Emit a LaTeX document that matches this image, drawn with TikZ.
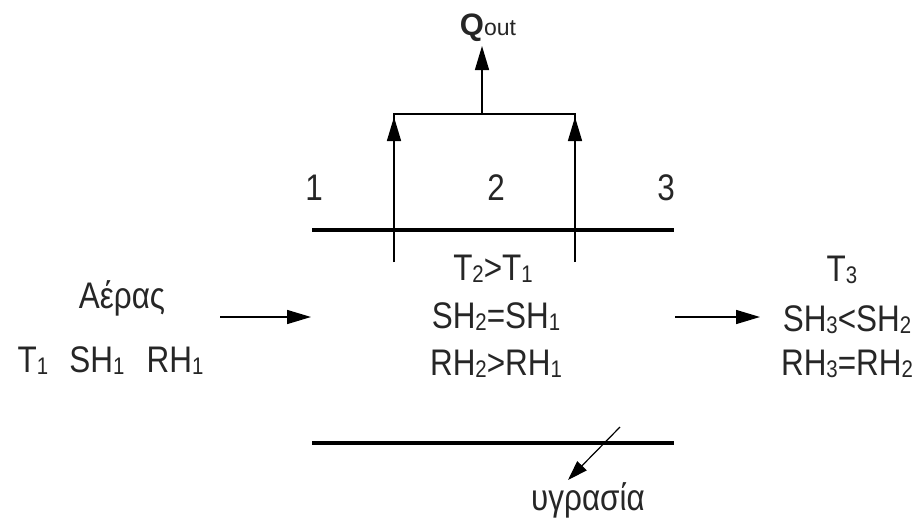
\documentclass[tikz,border=0pt]{standalone}
\usepackage{fontspec}
\setmainfont[FakeStretch=0.85]{Liberation Sans}
\newfontfamily\qfont{Liberation Sans}
\usetikzlibrary{arrows.meta}
\newcommand{\sbx}[1]{\raisebox{-2.5pt}{\fontsize{24}{24}\selectfont #1}}
\tikzset{
  lbl/.style={inner sep=0pt, anchor=base, font=\fontsize{37}{44}\selectfont, text=black!85},
  thin/.style={line width=1.5pt},
  wall/.style={line width=4pt},
  arr/.style={line width=1.5pt, -{Triangle[length=24pt,width=14pt]}}
}
\begin{document}
\begin{tikzpicture}[x=1pt,y=-1pt]
\useasboundingbox[fill=white] (0,0) rectangle (923,528);
% walls
\coordinate (w1a) at (312,230); \coordinate (w1b) at (674,230);
\coordinate (w2a) at (312,443); \coordinate (w2b) at (674,443);
\draw[wall] (w1a) -- (w1b);
\draw[wall] (w2a) -- (w2b);
% heat removal arrows
\coordinate (lb) at (394,262); \coordinate (lh) at (394,117); \coordinate (lt) at (394,114);
\coordinate (rb) at (575,262); \coordinate (rh) at (575,117); \coordinate (rt) at (575,114);
\coordinate (mt) at (482,114); \coordinate (qtip) at (482,46);
\draw[thin] (lb) -- (lt) -- (rt) -- (rb);
\draw[arr] (lb) -- (lh);
\draw[arr] (rb) -- (rh);
\draw[arr] (mt) -- (qtip);
\node[lbl, font=\qfont] (q) at (488,35) {{\fontsize{31}{31}\selectfont\bfseries Q}{\fontsize{23}{23}\selectfont out}};
% section numbers
\node[lbl] (n1) at (314,200) {1};
\node[lbl] (n2) at (496,200) {2};
\node[lbl] (n3) at (666,200) {3};
% inlet
\node[lbl] (air) at (122,308) {Αέρας};
\node[lbl] (t1) at (33,372) {T\sbx{1}};
\node[lbl] (sh1) at (97,372) {SH\sbx{1}};
\node[lbl] (rh1) at (175,372) {RH\sbx{1}};
\coordinate (ia) at (220,317); \coordinate (ib) at (311,317);
\draw[arr] (ia) -- (ib);
% middle
\node[lbl] (m1) at (493,280) {T\sbx{2}>T\sbx{1}};
\node[lbl] (m2) at (496,328) {SH\sbx{2}=SH\sbx{1}};
\node[lbl] (m3) at (496,375) {RH\sbx{2}>RH\sbx{1}};
% outlet
\coordinate (oa) at (675,317); \coordinate (ob) at (760,317);
\draw[arr] (oa) -- (ob);
\node[lbl] (o1) at (842,281) {T\sbx{3}};
\node[lbl] (o2) at (847,331) {SH\sbx{3}<SH\sbx{2}};
\node[lbl] (o3) at (847,375) {RH\sbx{3}=RH\sbx{2}};
% condensate
\coordinate (da) at (620,427); \coordinate (db) at (568,480);
\draw[line width=1.2pt, -{Triangle[length=20pt,width=13pt]}] (da) -- (db);
\node[lbl] (hum) at (588,510) {υγρασία};
\end{tikzpicture}
\end{document}
